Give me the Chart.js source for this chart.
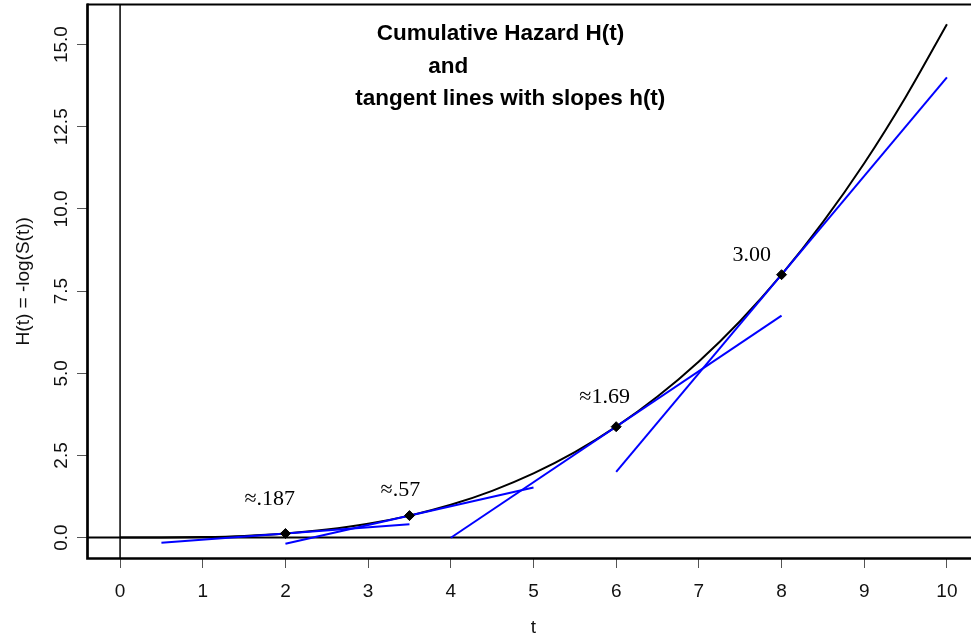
<!DOCTYPE html>
<html>
<head>
<meta charset="utf-8">
<script src="https://cdn.jsdelivr.net/npm/chart.js@4.4.0/dist/chart.umd.min.js"></script>
<style>
  html, body { margin: 0; padding: 0; background: #fff; overflow: hidden; }
  #wrap { width: 971px; height: 640px; overflow: hidden; }
  canvas { display: block; }
</style>
</head>
<body>
<div id="wrap"><canvas id="c" width="980" height="640"></canvas></div>
<script>
// Cumulative hazard H(t) sampled along t
const tValues = [0, 0.5, 1, 1.5, 2, 2.5, 3, 3.5, 4, 4.5, 5, 5.5, 6, 6.5, 7, 7.5, 8, 8.5, 9, 9.5, 10];
const cumHazard = [0, 0.002, 0.016, 0.053, 0.125, 0.244, 0.422, 0.67, 1.0, 1.424, 1.953, 2.6, 3.375, 4.291, 5.359, 6.592, 8.0, 9.596, 11.39, 13.4, 15.62];

// Points of tangency, their slopes h(t) and the t-span of each tangent line
const tangentT = [2, 3.5, 6, 8];
const tangentH = [0.125, 0.67, 3.375, 8.0];
const slopes = [0.187, 0.57, 1.69, 3.00];
const slopeLabels = ['≈.187', '≈.57', '≈1.69', '3.00'];
const tangentFrom = [0.5, 2, 4, 6];
const tangentTo = [3.5, 5, 8, 10];

// Where each slope label sits (data coordinates)
const labelT = [1.81, 3.39, 5.86, 7.64];
const labelH = [0.99, 1.27, 4.09, 8.41];

// Heading lines (data coordinates of each line's centre / baseline)
const titleLines = ['Cumulative Hazard H(t)', 'and', 'tangent lines with slopes h(t)'];
const titleT = [4.6, 3.97, 4.72];
const titleH = [15.15, 14.15, 13.15];

// Axis ticks
const xTicks = [0, 1, 2, 3, 4, 5, 6, 7, 8, 9, 10];
const xTickLabels = ['0', '1', '2', '3', '4', '5', '6', '7', '8', '9', '10'];
const yTicks = [0, 2.5, 5, 7.5, 10, 12.5, 15];
const yTickLabels = ['0.0', '2.5', '5.0', '7.5', '10.0', '12.5', '15.0'];
const xTitle = 't';
const yTitle = 'H(t) = -log(S(t))';

const SANS = '"Liberation Sans", Arial, Helvetica, sans-serif';
const SERIF = '"Liberation Serif", "Times New Roman", serif';
const BLUE = '#0000ff';

const curveData = tValues.map((t, i) => ({ x: t, y: cumHazard[i] }));
const tangentSets = tangentT.map((t0, i) => ({
  label: 'tangent ' + slopeLabels[i],
  data: [tangentFrom[i], tangentTo[i]].map(t => ({ x: t, y: tangentH[i] + slopes[i] * (t - t0) })),
  borderColor: BLUE,
  borderWidth: 2,
  pointRadius: 0,
  tension: 0,
  fill: false,
  order: 1
}));

const decor = {
  id: 'decor',
  beforeDatasetsDraw(chart) {
    const { ctx, chartArea: a, scales: { x, y } } = chart;
    ctx.save();
    ctx.strokeStyle = '#000';
    // reference lines at t = 0 and H = 0
    ctx.lineWidth = 1.5;
    const x0 = x.getPixelForValue(0);
    ctx.beginPath(); ctx.moveTo(x0, a.top); ctx.lineTo(x0, a.bottom); ctx.stroke();
    ctx.lineWidth = 2;
    const y0 = y.getPixelForValue(0);
    ctx.beginPath(); ctx.moveTo(a.left, y0); ctx.lineTo(a.right, y0); ctx.stroke();
    ctx.restore();
  },
  afterDraw(chart) {
    const { ctx, chartArea: a, scales: { x, y } } = chart;
    ctx.save();
    // plot frame
    ctx.strokeStyle = '#000';
    ctx.lineWidth = 1.8;
    ctx.beginPath(); ctx.moveTo(a.left, a.top); ctx.lineTo(a.right, a.top); ctx.stroke();
    ctx.lineWidth = 2.7;
    ctx.beginPath();
    ctx.moveTo(a.left + 0.5, a.top - 1);
    ctx.lineTo(a.left + 0.5, a.bottom + 0.5);
    ctx.lineTo(a.right, a.bottom + 0.5);
    ctx.stroke();

    // heading
    ctx.fillStyle = '#000';
    ctx.font = 'bold 22.5px ' + SANS;
    ctx.textAlign = 'center';
    ctx.textBaseline = 'alphabetic';
    titleLines.forEach((s, i) => ctx.fillText(s, x.getPixelForValue(titleT[i]), y.getPixelForValue(titleH[i])));

    // slope labels
    ctx.font = '22px ' + SERIF;
    slopeLabels.forEach((s, i) => ctx.fillText(s, x.getPixelForValue(labelT[i]), y.getPixelForValue(labelH[i])));

    // rotated y tick labels
    ctx.font = '19px ' + SANS;
    ctx.fillStyle = '#111';
    yTicks.forEach((v, i) => {
      ctx.save();
      ctx.translate(67, y.getPixelForValue(v));
      ctx.rotate(-Math.PI / 2);
      ctx.fillText(yTickLabels[i], 0, 0);
      ctx.restore();
    });

    // axis titles
    ctx.save();
    ctx.translate(29, (a.top + a.bottom) / 2);
    ctx.rotate(-Math.PI / 2);
    ctx.fillText(yTitle, 0, 0);
    ctx.restore();
    ctx.fillText(xTitle, (a.left + a.right) / 2, 633);
    ctx.restore();
  }
};

new Chart(document.getElementById('c'), {
  type: 'line',
  data: {
    datasets: [
      {
        label: 'points',
        data: tangentT.map((t, i) => ({ x: t, y: tangentH[i] })),
        showLine: false,
        pointStyle: 'rectRot',
        pointRadius: 5,
        pointBorderWidth: 1,
        pointBackgroundColor: '#000',
        pointBorderColor: '#000',
        order: 0
      },
      ...tangentSets,
      {
        label: 'H(t)',
        data: curveData,
        borderColor: '#000',
        borderWidth: 2,
        pointRadius: 0,
        cubicInterpolationMode: 'monotone',
        fill: false,
        order: 2
      }
    ]
  },
  options: {
    responsive: false,
    animation: false,
    events: [],
    layout: { autoPadding: false, padding: { top: 4.5, right: 0, left: 0, bottom: 0 } },
    plugins: { legend: { display: false }, tooltip: { enabled: false } },
    scales: {
      x: {
        type: 'linear',
        min: -0.4,
        max: 10.4,
        afterBuildTicks: s => { s.ticks = xTicks.map(v => ({ value: v })); },
        afterFit: s => { s.height = 82; },
        border: { display: false },
        grid: { drawOnChartArea: false, drawTicks: true, tickLength: 10, tickColor: '#555', lineWidth: 1 },
        ticks: {
          autoSkip: false, maxRotation: 0, minRotation: 0, padding: 12.5,
          color: '#111', font: { family: SANS, size: 19 },
          callback: (v) => xTickLabels[xTicks.indexOf(v)]
        }
      },
      y: {
        type: 'linear',
        min: -0.62,
        max: 16.22,
        afterBuildTicks: s => { s.ticks = yTicks.map(v => ({ value: v })); },
        afterFit: s => { s.width = 87; },
        border: { display: false },
        grid: { drawOnChartArea: false, drawTicks: true, tickLength: 10, tickColor: '#555', lineWidth: 1 },
        ticks: { display: false }
      }
    }
  },
  plugins: [decor]
});
</script>
</body>
</html>
